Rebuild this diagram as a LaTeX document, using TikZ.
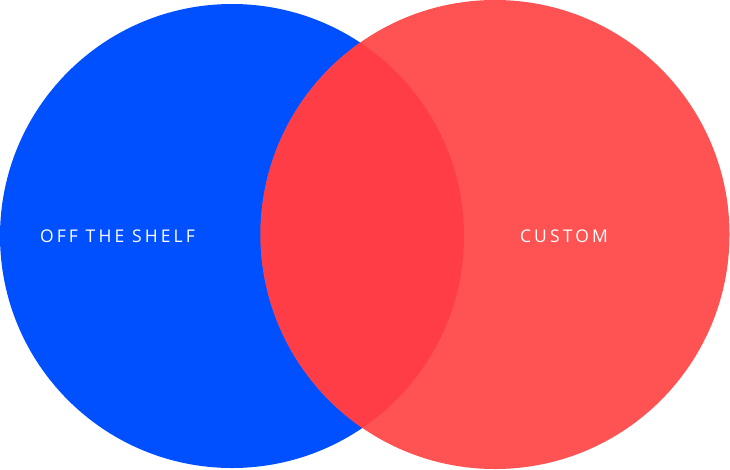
\documentclass[tikz,border=0pt]{standalone}
\usepackage{fontspec}
\usepackage{tikz}
\usetikzlibrary{positioning}
\newfontfamily\vennfont[LetterSpace=18]{Open Sans}
\definecolor{shelfblue}{RGB}{0,80,255}
\definecolor{customred}{RGB}{255,82,82}
\definecolor{mixred}{RGB}{255,61,71}
\tikzset{
    % style of the two words
    venntext/.style={
        text=white,
        font=\vennfont\fontsize{17.5}{21}\selectfont,
        inner sep=0pt
    }
}

\begin{document}
\begin{tikzpicture}[x=1pt,y=-1pt]
   \useasboundingbox (0,0) rectangle (730,469);
   \fill[shelfblue] (232,236) circle (232);
   \fill[customred] (495,234.5) circle (234.5);
   \begin{scope}
      \clip (232,236) circle (232);
      \fill[mixred] (495,234.5) circle (234.5);
   \end{scope}
   \node[venntext] (shelf) at (117.5,236) {OFF THE SHELF};
   \node[venntext] (custom) at (564,236) {CUSTOM};
  \end{tikzpicture}
\end{document}
